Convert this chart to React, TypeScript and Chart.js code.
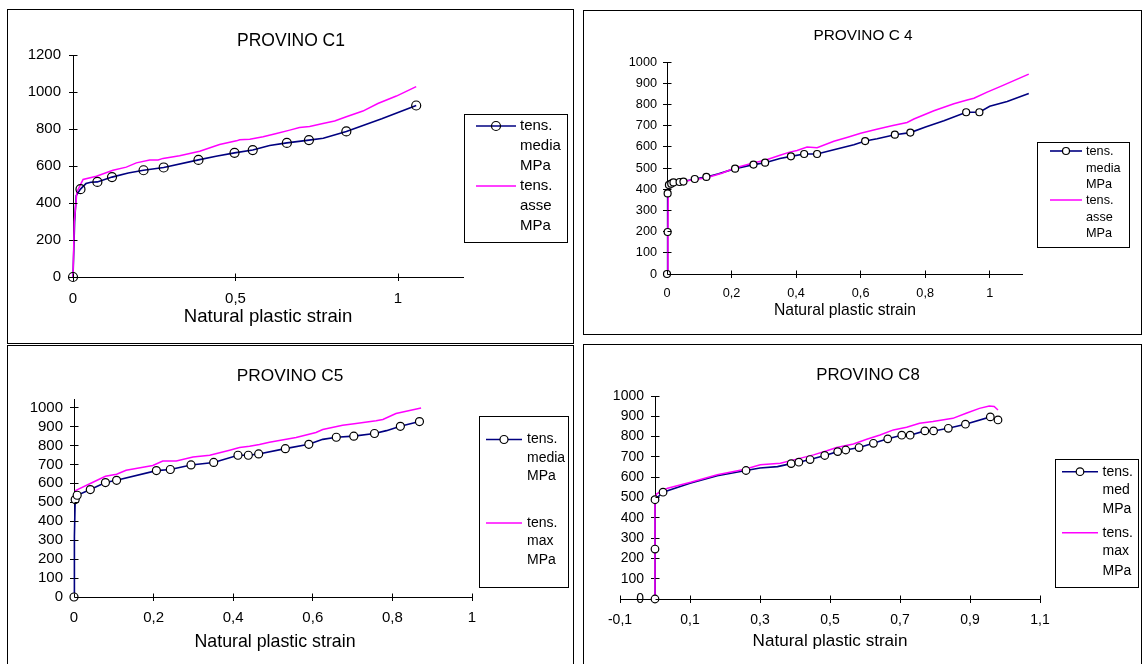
import React, { useEffect, useRef } from 'react';
import { Chart, registerables } from 'chart.js';

Chart.register(...registerables);

const W = 1144;
const H = 664;
const FONT = "'Liberation Sans', Arial, Helvetica, sans-serif";

// ===================== PROVINO C1 =====================
const c1Names = ['tens. media MPa', 'tens. asse MPa'];
const c1MediaStrain = [0, 0.023, 0.075, 0.12, 0.217, 0.279, 0.386, 0.497, 0.553, 0.658, 0.726, 0.841, 1.056];
const c1MediaStress = [0, 475, 514, 540, 577, 592, 633, 671, 686, 725, 740, 787, 927];
const c1MediaPathStrain = [0.005, 0.01, 0.04, 0.055, 0.17, 0.44, 0.605, 0.77, 0.95];
const c1MediaPathStress = [300, 440, 505, 512, 562, 653, 711, 750, 855];
const c1AsseStrain = [0, 0.004, 0.012, 0.031, 0.072, 0.123, 0.164, 0.195, 0.236, 0.262, 0.277, 0.328, 0.39, 0.451, 0.503, 0.513, 0.544, 0.585, 0.626, 0.667, 0.697, 0.728, 0.769, 0.805, 0.841, 0.892, 0.938, 0.995, 1.056];
const c1AsseStress = [0, 300, 460, 527, 545, 577, 594, 617, 632, 632, 641, 655, 680, 716, 736, 742, 745, 758, 776, 794, 808, 814, 830, 843, 866, 897, 938, 978, 1029];

// ===================== PROVINO C 4 =====================
const c4Names = ['tens. media MPa', 'tens. asse MPa'];
const c4MediaStrain = [0, 0.002, 0.002, 0.006, 0.013, 0.02, 0.039, 0.051, 0.086, 0.122, 0.211, 0.268, 0.304, 0.384, 0.425, 0.465, 0.614, 0.706, 0.754, 0.927, 0.968];
const c4MediaStress = [0, 198, 380, 420, 426, 432, 434, 436, 448, 458, 497, 516, 525, 555, 566, 566, 627, 657, 667, 763, 763];
const c4MediaPathStrain = [0.16, 0.35, 0.517, 0.579, 0.651, 0.801, 0.858, 1.0, 1.054, 1.121];
const c4MediaPathStress = [473, 545, 586, 610, 638, 693, 723, 791, 814, 851];
const c4AsseStrain = [0, 0.003, 0.004, 0.008, 0.02, 0.05, 0.09, 0.125, 0.17, 0.21, 0.27, 0.304, 0.35, 0.38, 0.403, 0.434, 0.465, 0.517, 0.56, 0.6, 0.65, 0.7, 0.744, 0.765, 0.827, 0.889, 0.93, 0.951, 0.992, 1.034, 1.121];
const c4AsseStress = [0, 200, 380, 420, 430, 438, 446, 455, 475, 500, 525, 537, 560, 575, 583, 599, 596, 626, 645, 664, 683, 700, 715, 731, 770, 803, 821, 829, 858, 885, 943];

// ===================== PROVINO C5 =====================
const c5Names = ['tens. media MPa', 'tens. max MPa'];
const c5MediaStrain = [0, 0.003, 0.008, 0.041, 0.079, 0.107, 0.207, 0.242, 0.294, 0.351, 0.412, 0.438, 0.464, 0.531, 0.59, 0.659, 0.703, 0.755, 0.82, 0.868];
const c5MediaStress = [0, 514, 537, 567, 604, 616, 667, 673, 697, 710, 748, 748, 755, 783, 806, 843, 849, 863, 901, 926];
const c5MediaPathStrain = [0.001, 0.625, 0.785];
const c5MediaPathStress = [320, 832, 878];
const c5MaxStrain = [0.002, 0.041, 0.079, 0.107, 0.131, 0.198, 0.223, 0.257, 0.299, 0.341, 0.391, 0.416, 0.441, 0.466, 0.491, 0.558, 0.608, 0.625, 0.675, 0.704, 0.759, 0.776, 0.809, 0.872];
const c5MaxStress = [560, 599, 637, 648, 669, 694, 718, 718, 739, 748, 775, 789, 796, 805, 817, 842, 868, 884, 907, 915, 930, 937, 968, 998];

// ===================== PROVINO C8 =====================
const c8Names = ['tens. med MPa', 'tens. max MPa'];
const c8MedStrain = [0, 0, 0, 0.023, 0.26, 0.389, 0.411, 0.443, 0.485, 0.522, 0.545, 0.583, 0.624, 0.665, 0.705, 0.729, 0.771, 0.796, 0.838, 0.887, 0.958, 0.98];
const c8MedStress = [0, 246, 489, 526, 633, 667, 674, 687, 707, 726, 734, 746, 767, 789, 807, 807, 828, 828, 841, 861, 897, 882];
const c8MedPathStrain = [0.1, 0.178, 0.3, 0.35];
const c8MedPathStress = [570, 607, 645, 652];
const c8MaxStrain = [0, 0, 0.005, 0.036, 0.102, 0.178, 0.254, 0.301, 0.358, 0.405, 0.453, 0.491, 0.519, 0.567, 0.605, 0.643, 0.681, 0.719, 0.756, 0.794, 0.851, 0.889, 0.927, 0.955, 0.969, 0.98];
const c8MaxStress = [0, 489, 518, 546, 575, 612, 638, 661, 669, 689, 710, 730, 746, 764, 787, 808, 833, 846, 866, 874, 890, 915, 939, 951, 948, 931];

const X_TITLE = 'Natural plastic strain';

// ---------- helpers ----------
const pts = (xs: number[], ys: number[]) => xs.map((x, i) => ({ x, y: ys[i] }));
const pathPts = (mx: number[], my: number[], px: number[], py: number[]) =>
  [...pts(mx, my), ...pts(px, py)].sort((a, b) => a.x - b.x || a.y - b.y);
const fmt = (v: number) => String(Math.round(v * 100) / 100).replace('.', ',');

type Spec = any;

const panels: Spec[] = [
  {
    id: 'c1', title: 'PROVINO C1', names: c1Names,
    markX: c1MediaStrain, markY: c1MediaStress, pathX: c1MediaPathStrain, pathY: c1MediaPathStress,
    secX: c1AsseStrain, secY: c1AsseStress,
    frame: [7, 9, 573, 343],
    area: { left: 73, right: 463, top: 55, bottom: 277 },
    x: { min: 0, max: 1.2, step: 0.5 }, y: { min: 0, max: 1200, step: 200 },
    yAtZero: false,
    fonts: { title: 17.5, axisTitle: 18.6, ticks: 15, legend: 15 },
    titlePos: [291, 41], axisTitlePos: [268, 317],
    xPad: 9, yPad: 8, tick: 4, inner: 4,
    markerR: 4.5, markerFill: 'rgba(255,255,255,0)',
    legend: { box: [464, 114, 567, 242], rows: [126, 146, 166, 186, 206, 226], sample: [476, 516], textX: 520 },
  },
  {
    id: 'c4', title: 'PROVINO C 4', names: c4Names,
    markX: c4MediaStrain, markY: c4MediaStress, pathX: c4MediaPathStrain, pathY: c4MediaPathStress,
    secX: c4AsseStrain, secY: c4AsseStress,
    frame: [583, 10, 1141, 334],
    area: { left: 667, right: 1022, top: 62, bottom: 274 },
    x: { min: 0, max: 1.1, step: 0.2 }, y: { min: 0, max: 1000, step: 100 },
    yAtZero: false,
    fonts: { title: 15.4, axisTitle: 15.7, ticks: 12.7, legend: 12.7 },
    titlePos: [863, 36], axisTitlePos: [845, 310.5],
    xPad: 8, yPad: 6, tick: 4, inner: 4,
    markerR: 3.5, markerFill: '#ffffff',
    legend: { box: [1037, 142, 1129, 247], rows: [151, 168, 184.5, 200, 217, 233.5], sample: [1050, 1082], textX: 1086 },
  },
  {
    id: 'c5', title: 'PROVINO C5', names: c5Names,
    markX: c5MediaStrain, markY: c5MediaStress, pathX: c5MediaPathStrain, pathY: c5MediaPathStress,
    secX: c5MaxStrain, secY: c5MaxStress,
    frame: [7, 345, 573, 700],
    area: { left: 74, right: 472, top: 399, bottom: 597 },
    x: { min: 0, max: 1, step: 0.2 }, y: { min: 0, max: 1045, step: 100 },
    yAtZero: false,
    fonts: { title: 17.3, axisTitle: 17.8, ticks: 15, legend: 14 },
    titlePos: [290, 376.5], axisTitlePos: [275, 642],
    xPad: 7.5, yPad: 7, tick: 4, inner: 4,
    markerR: 4, markerFill: '#ffffff',
    legend: { box: [479, 416, 568, 587], rows: [439.5, 457.8, 476.4, 522.9, 541.2, 560.1], sample: [486, 522], textX: 527 },
  },
  {
    id: 'c8', title: 'PROVINO C8', names: c8Names,
    markX: c8MedStrain, markY: c8MedStress, pathX: c8MedPathStrain, pathY: c8MedPathStress,
    secX: c8MaxStrain, secY: c8MaxStress,
    frame: [583, 344, 1141, 700],
    area: { left: 620, right: 1040, top: 396, bottom: 599 },
    x: { min: -0.1, max: 1.1, step: 0.2 }, y: { min: 0, max: 1000, step: 100 },
    yAtZero: true, yLabelGap: 11.5,
    fonts: { title: 16.8, axisTitle: 17.1, ticks: 14, legend: 14 },
    titlePos: [868, 375.7], axisTitlePos: [830, 641.7],
    xPad: 8.6, yPad: 7, tick: 4, inner: 4,
    markerR: 3.8, markerFill: '#ffffff',
    legend: { box: [1055, 459, 1138, 587], rows: [471.7, 490.3, 509.3, 532.7, 551, 570.7], sample: [1062, 1098], textX: 1102.5 },
  },
];

const al = (p: number) => Math.round(p - 0.5) + 0.5;

// keep only ticks that lie on the step grid (drops an extra tick at a non-round max)
const onGrid = (min: number, step: number) => (sc: any) => {
  sc.ticks = sc.ticks.filter((t: any) => {
    const k = (t.value - min) / step;
    return Math.abs(k - Math.round(k)) < 1e-6;
  });
};

const decor = {
  id: 'decor',
  afterDraw(chart: any, _args: any, opts: any) {
    const s = opts.spec;
    if (!s) return;
    const ctx = chart.ctx;
    const area = chart.chartArea;
    const xs = chart.scales.x;
    const ys = chart.scales.y;
    ctx.save();
    ctx.strokeStyle = '#000';
    ctx.lineWidth = 1;

    // panel frame
    const [fx1, fy1, fx2, fy2] = s.frame;
    ctx.strokeRect(fx1 + 0.5, fy1 + 0.5, fx2 - fx1, fy2 - fy1);

    // inner half of Excel "cross" tick marks
    const axisX = al(s.yAtZero ? xs.getPixelForValue(0) : area.left);
    const axisY = al(area.bottom);
    ctx.beginPath();
    xs.ticks.forEach((t: any) => {
      const p = al(xs.getPixelForValue(t.value));
      ctx.moveTo(p, axisY);
      ctx.lineTo(p, axisY - s.inner);
    });
    ys.ticks.forEach((t: any) => {
      const p = al(ys.getPixelForValue(t.value));
      ctx.moveTo(axisX, p);
      ctx.lineTo(axisX + s.inner, p);
    });
    ctx.stroke();

    ctx.fillStyle = '#000';
    // y labels for an axis crossing at x = 0
    if (s.yAtZero) {
      ctx.font = `${s.fonts.ticks}px ${FONT}`;
      ctx.textAlign = 'right';
      ctx.textBaseline = 'middle';
      ys.ticks.forEach((t: any) => {
        ctx.fillText(fmt(t.value), axisX - s.yLabelGap, ys.getPixelForValue(t.value));
      });
    }

    // titles
    ctx.textAlign = 'center';
    ctx.textBaseline = 'middle';
    ctx.font = `${s.fonts.title}px ${FONT}`;
    ctx.fillText(s.title, s.titlePos[0], s.titlePos[1]);
    ctx.font = `${s.fonts.axisTitle}px ${FONT}`;
    ctx.fillText(X_TITLE, s.axisTitlePos[0], s.axisTitlePos[1]);

    // legend
    const L = s.legend;
    const [lx1, ly1, lx2, ly2] = L.box;
    ctx.fillStyle = '#fff';
    ctx.fillRect(lx1, ly1, lx2 - lx1, ly2 - ly1);
    ctx.strokeStyle = '#000';
    ctx.strokeRect(lx1 + 0.5, ly1 + 0.5, lx2 - lx1, ly2 - ly1);
    const ds = chart.data.datasets;
    const entries = [
      { color: ds[2].borderColor, width: ds[2].borderWidth, marker: true, label: ds[2].label },
      { color: ds[1].borderColor, width: ds[1].borderWidth, marker: false, label: ds[1].label },
    ];
    ctx.textAlign = 'left';
    ctx.textBaseline = 'middle';
    ctx.font = `${s.fonts.legend}px ${FONT}`;
    entries.forEach((e, i) => {
      const y0 = L.rows[i * 3];
      ctx.strokeStyle = e.color;
      ctx.lineWidth = e.width;
      ctx.beginPath();
      ctx.moveTo(L.sample[0], y0);
      ctx.lineTo(L.sample[1], y0);
      ctx.stroke();
      if (e.marker) {
        const cx = (L.sample[0] + L.sample[1]) / 2;
        ctx.beginPath();
        ctx.arc(cx, y0, s.markerR, 0, Math.PI * 2);
        ctx.fillStyle = ds[0].pointBackgroundColor;
        ctx.fill();
        ctx.strokeStyle = '#000';
        ctx.lineWidth = 1.2;
        ctx.stroke();
      }
      ctx.fillStyle = '#000';
      String(e.label).split(' ').forEach((w: string, k: number) => {
        ctx.fillText(w, L.textX, L.rows[i * 3 + k]);
      });
    });
    ctx.restore();
  },
};

function makeConfig(s: Spec): any {
  const yAxisW = s.yAtZero ? 0 : 62;
  const xAxisH = 40;
  const tickFont = { family: FONT, size: s.fonts.ticks };
  const grid = { display: true, drawOnChartArea: false, drawTicks: true, tickLength: s.tick, tickColor: '#000', tickWidth: 1 };
  const border = { display: true, color: '#000', width: 1 };
  return {
    type: 'scatter',
    data: {
      datasets: [
        {
          label: s.names[0], data: pts(s.markX, s.markY), showLine: false,
          pointRadius: s.markerR, pointBorderColor: '#000', pointBackgroundColor: s.markerFill,
          pointBorderWidth: 1.2, clip: false,
        },
        {
          label: s.names[1], data: pts(s.secX, s.secY), showLine: true,
          borderColor: '#FF00FF', borderWidth: 1.5, pointRadius: 0, tension: 0, clip: false,
        },
        {
          label: s.names[0], data: pathPts(s.markX, s.markY, s.pathX, s.pathY), showLine: true,
          borderColor: '#000080', borderWidth: 1.6, pointRadius: 0, tension: 0, clip: false,
        },
      ],
    },
    options: {
      animation: false,
      responsive: false,
      devicePixelRatio: 1,
      events: [],
      layout: {
        padding: {
          left: s.area.left - yAxisW,
          top: s.area.top,
          right: W - s.area.right,
          bottom: H - s.area.bottom - xAxisH,
        },
      },
      plugins: {
        legend: { display: false },
        tooltip: { enabled: false },
        title: { display: false },
        decor: { spec: s },
      },
      scales: {
        x: {
          type: 'linear', position: 'bottom', min: s.x.min, max: s.x.max, bounds: 'data',
          grid, border,
          ticks: {
            stepSize: s.x.step, includeBounds: false, autoSkip: false, maxRotation: 0, minRotation: 0,
            padding: s.xPad, color: '#000', font: tickFont, callback: (v: number) => fmt(v),
          },
          afterBuildTicks: onGrid(s.x.min, s.x.step),
          afterFit: (sc: any) => { sc.height = xAxisH; },
        },
        y: {
          type: 'linear', position: s.yAtZero ? { x: 0 } : 'left', min: s.y.min, max: s.y.max, bounds: 'data',
          grid, border,
          ticks: {
            display: !s.yAtZero, stepSize: s.y.step, includeBounds: false, autoSkip: false,
            padding: s.yPad, color: '#000', font: tickFont, callback: (v: number) => fmt(v),
          },
          afterBuildTicks: onGrid(s.y.min, s.y.step),
          afterFit: (sc: any) => { if (!s.yAtZero) sc.width = yAxisW; },
        },
      },
    },
    plugins: [decor],
  };
}

function PanelChart({ spec }: { spec: Spec }) {
  const ref = useRef<HTMLCanvasElement>(null);
  useEffect(() => {
    if (!ref.current) return;
    const chart = new Chart(ref.current, makeConfig(spec));
    return () => chart.destroy();
  }, [spec]);
  return (
    <canvas
      ref={ref}
      width={W}
      height={H}
      style={{ position: 'absolute', left: 0, top: 0, width: W, height: H }}
    />
  );
}

export default function App() {
  return (
    <div style={{ position: 'absolute', left: 0, top: 0, width: W, height: H, background: '#fff', overflow: 'hidden' }}>
      {panels.map((p) => (
        <PanelChart key={p.id} spec={p} />
      ))}
    </div>
  );
}
